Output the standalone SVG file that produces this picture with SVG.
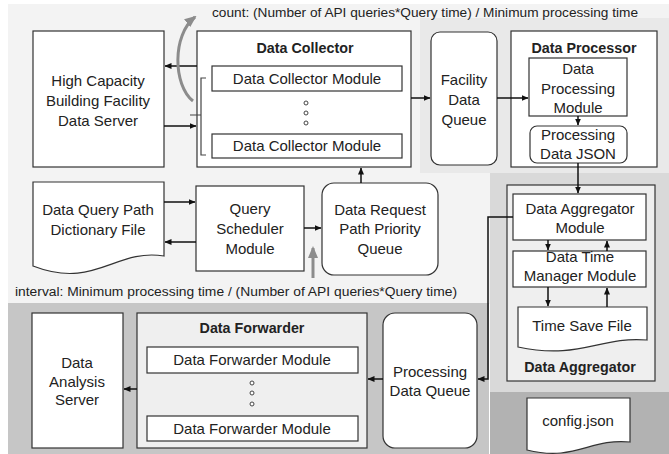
<svg xmlns="http://www.w3.org/2000/svg" width="669" height="454" viewBox="0 0 669 454">
<defs>
<marker id="ah" markerUnits="userSpaceOnUse" markerWidth="7" markerHeight="6" refX="6.5" refY="3" orient="auto"><path d="M0,0 L7,3 L0,6 z" fill="#111"/></marker>
<marker id="ahg" markerUnits="userSpaceOnUse" markerWidth="12" markerHeight="10" refX="10" refY="5" orient="auto"><path d="M0,0 L12,5 L0,10 z" fill="#8c8c8c"/></marker>
<style>
.box{fill:#fff;stroke:#333;stroke-width:1.2}
.grp{fill:#efefef;stroke:#333;stroke-width:1.2}
.t{font-family:"Liberation Sans",Arial,sans-serif;font-size:15px;fill:#222;text-anchor:middle}
.b{font-weight:bold;font-size:14.3px}
.note{font-family:"Liberation Sans",Arial,sans-serif;font-size:12.5px;fill:#222}
.c{fill:none;stroke:#111;stroke-width:1.5}
.g{fill:none;stroke:#8c8c8c;stroke-width:3}
.dot{fill:#fff;stroke:#444;stroke-width:1}
</style>
</defs>
<rect x="0" y="0" width="669" height="454" fill="#fff"/>
<g id="panels">
<rect x="8" y="4" width="661" height="300" fill="#f3f3f3"/>
<rect x="420" y="18" width="249" height="155" fill="#e9e9e9"/>
<rect x="490" y="173" width="179" height="219" fill="#d9d9d9"/>
<rect x="8" y="303" width="481" height="151" fill="#c6c6c6"/>
<rect x="490" y="392" width="179" height="62" fill="#b2b2b2"/>
</g>
<g id="notes">
<text class="note" x="212" y="17" textLength="426" lengthAdjust="spacingAndGlyphs">count: (Number of API queries*Query time) / Minimum processing time</text>
<text class="note" x="15" y="296" textLength="442" lengthAdjust="spacingAndGlyphs">interval: Minimum processing time / (Number of API queries*Query time)</text>
</g>
<g id="server">
<rect class="box" x="33" y="31" width="131" height="136"/>
<text class="t" x="98" y="86">High Capacity</text>
<text class="t" x="98" y="106">Building Facility</text>
<text class="t" x="98" y="126">Data Server</text>
</g>
<g id="collector">
<rect class="box" x="197" y="31" width="214" height="136"/>
<text class="t b" x="305" y="53">Data Collector</text>
<rect class="box" x="212" y="66" width="190" height="25"/>
<text class="t" x="307" y="84">Data Collector Module</text>
<circle class="dot" cx="306" cy="103" r="2"/>
<circle class="dot" cx="306" cy="113" r="2"/>
<circle class="dot" cx="306" cy="123" r="2"/>
<rect class="box" x="212" y="134" width="190" height="24"/>
<text class="t" x="307" y="151">Data Collector Module</text>
<path d="M206,78 H201 V155 H206 M190,115 H201" fill="none" stroke="#444" stroke-width="1.2"/>
</g>
<g id="facility-queue">
<rect class="box" x="431" y="32" width="66" height="133" rx="9"/>
<text class="t" x="464" y="85">Facility</text>
<text class="t" x="464" y="105">Data</text>
<text class="t" x="464" y="125">Queue</text>
</g>
<g id="processor">
<rect class="box" x="511" y="31" width="146" height="136"/>
<text class="t b" x="584" y="53">Data Processor</text>
<rect class="box" x="529" y="58" width="98" height="58"/>
<text class="t" x="578" y="74">Data</text>
<text class="t" x="578" y="94">Processing</text>
<text class="t" x="578" y="113">Module</text>
<rect class="box" x="530" y="126" width="97" height="37" rx="7"/>
<text class="t" x="578" y="140">Processing</text>
<text class="t" x="578" y="159">Data JSON</text>
</g>
<g id="dictionary">
<path class="box" d="M33,182 H164 V256 C115,248 95,290 33,266 Z"/>
<text class="t" x="98" y="215">Data Query Path</text>
<text class="t" x="98" y="235">Dictionary File</text>
</g>
<g id="scheduler">
<rect class="box" x="196" y="186" width="108" height="85"/>
<text class="t" x="250" y="214">Query</text>
<text class="t" x="250" y="234">Scheduler</text>
<text class="t" x="250" y="254">Module</text>
</g>
<g id="priority-queue">
<rect class="box" x="322" y="183" width="116" height="92" rx="12"/>
<text class="t" x="380" y="215">Data Request</text>
<text class="t" x="380" y="234">Path Priority</text>
<text class="t" x="380" y="254">Queue</text>
</g>
<g id="aggregator">
<rect class="grp" x="507" y="185" width="148" height="196"/>
<rect class="box" x="513" y="194" width="133" height="46"/>
<text class="t" x="580" y="214">Data Aggregator</text>
<text class="t" x="580" y="233">Module</text>
<rect class="box" x="513" y="251" width="133" height="36"/>
<text class="t" x="580" y="262">Data Time</text>
<text class="t" x="580" y="281">Manager Module</text>
<path class="box" d="M518,307 H647 V340 C600,336 580,360 518,347 Z"/>
<text class="t" x="582" y="331">Time Save File</text>
<text class="t b" x="580" y="372">Data Aggregator</text>
</g>
<g id="config">
<path class="box" d="M527,398 H630 V442 C590,438 575,462 527,450 Z"/>
<text class="t" x="578" y="426">config.json</text>
</g>
<g id="processing-queue">
<rect class="box" x="383" y="313" width="94" height="135" rx="12"/>
<text class="t" x="430" y="377">Processing</text>
<text class="t" x="430" y="396">Data Queue</text>
</g>
<g id="forwarder">
<rect class="grp" x="137" y="313" width="230" height="135"/>
<text class="t b" x="252" y="333">Data Forwarder</text>
<rect class="box" x="147" y="347" width="211" height="26"/>
<text class="t" x="252" y="365">Data Forwarder Module</text>
<circle class="dot" cx="252" cy="383" r="2"/>
<circle class="dot" cx="252" cy="393" r="2"/>
<circle class="dot" cx="252" cy="404" r="2"/>
<rect class="box" x="147" y="416" width="211" height="25"/>
<text class="t" x="252" y="434">Data Forwarder Module</text>
</g>
<g id="analysis-server">
<rect class="box" x="32" y="313" width="91" height="135"/>
<text class="t" x="77" y="368">Data</text>
<text class="t" x="77" y="387">Analysis</text>
<text class="t" x="77" y="405">Server</text>
</g>
<g id="connectors">
<path class="c" d="M197,66 H165" marker-end="url(#ah)"/>
<path class="c" d="M164,126 H196" marker-end="url(#ah)"/>
<path class="g" d="M193,101 C173,85 172,35 195,17" marker-end="url(#ahg)"/>
<path class="c" d="M411,98 H430" marker-end="url(#ah)"/>
<path class="c" d="M497,98 H528" marker-end="url(#ah)"/>
<path class="c" d="M578,116 V125" marker-end="url(#ah)"/>
<path class="c" d="M578,163 V193" marker-end="url(#ah)"/>
<path class="c" d="M164,202 H195" marker-end="url(#ah)"/>
<path class="c" d="M196,242 H165" marker-end="url(#ah)"/>
<path class="c" d="M304,228 H321" marker-end="url(#ah)"/>
<path class="c" d="M361,183 V168" marker-end="url(#ah)"/>
<path class="g" d="M313,278 V248" marker-end="url(#ahg)"/>
<path class="c" d="M548,240 V250" marker-end="url(#ah)"/>
<path class="c" d="M607,251 V241" marker-end="url(#ah)"/>
<path class="c" d="M548,287 V306" marker-end="url(#ah)"/>
<path class="c" d="M607,307 V288" marker-end="url(#ah)"/>
<path class="c" d="M513,217 H488 V379 H478" marker-end="url(#ah)"/>
<path class="c" d="M383,379 H368" marker-end="url(#ah)"/>
<path class="c" d="M137,389 H124" marker-end="url(#ah)"/>
</g>
</svg>
